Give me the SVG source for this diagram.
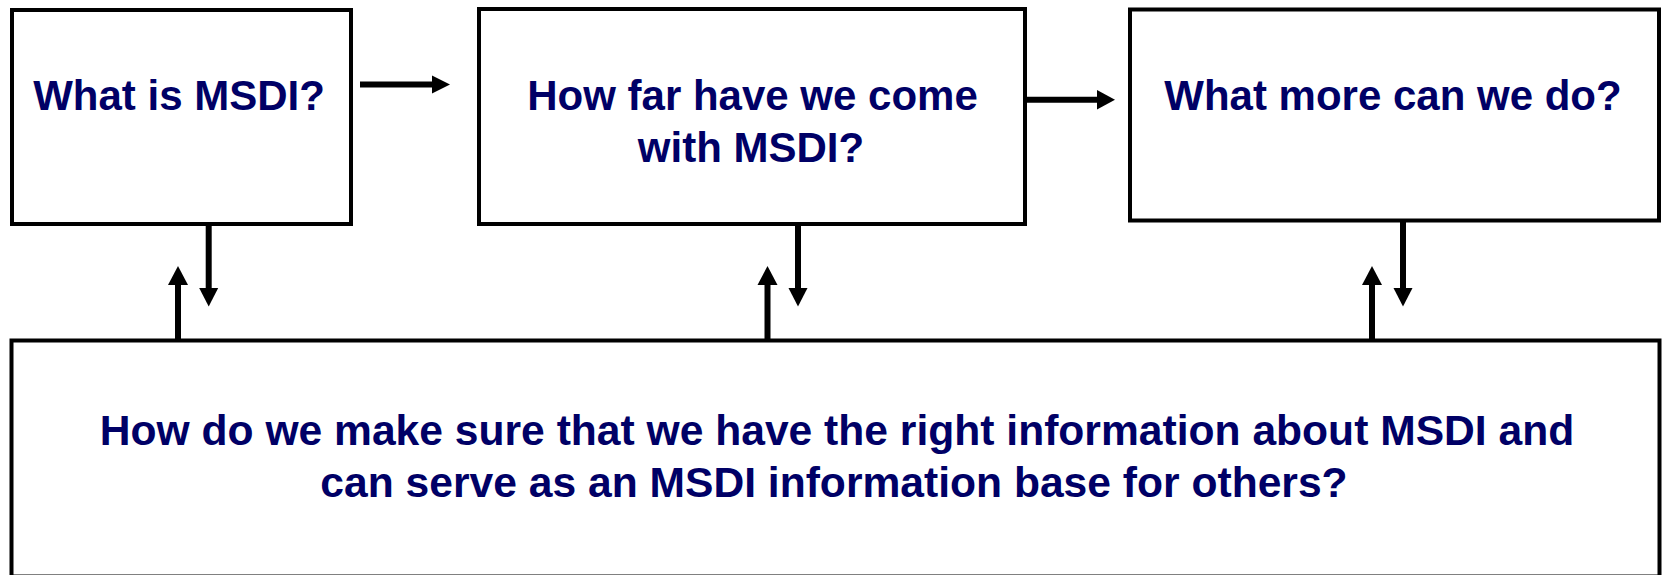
<svg xmlns="http://www.w3.org/2000/svg" width="1662" height="575" viewBox="0 0 1662 575">
<style>
.box{fill:#ffffff;stroke:#000000;stroke-width:4}
.lbl{font-family:"Liberation Sans",Arial,sans-serif;font-weight:bold;font-size:42px;fill:#000066;text-anchor:middle}
.big{font-size:42.6px}
.conn{stroke:#000000;stroke-width:6;fill:none}
.head{fill:#000000;stroke:none}
</style>
<rect width="1662" height="575" fill="#ffffff"/>
<g id="node-what-is">
<rect class="box" x="12" y="10" width="339" height="214"/>
<text class="lbl" x="179" y="110">What is MSDI?</text>
</g>
<g id="node-how-far">
<rect class="box" x="479" y="9" width="546" height="215"/>
<text class="lbl" x="752.5" y="110">How far have we come</text>
<text class="lbl" x="751" y="162">with MSDI?</text>
</g>
<g id="node-what-more">
<rect class="box" x="1130" y="9.5" width="529" height="211"/>
<text class="lbl" x="1393" y="110">What more can we do?</text>
</g>
<g id="node-info-base">
<rect class="box" x="11.5" y="340.5" width="1648" height="236"/>
<text class="lbl big" x="837" y="445">How do we make sure that we have the right information about MSDI and</text>
<text class="lbl big" x="834" y="497">can serve as an MSDI information base for others?</text>
</g>
<g id="connectors">
<line class="conn" x1="360" y1="84.5" x2="433" y2="84.5"/>
<polygon class="head" points="432,75.5 450,84.5 432,93.5"/>
<line class="conn" x1="1025" y1="99.7" x2="1099" y2="99.7"/>
<polygon class="head" points="1097,90 1115,99.7 1097,109.5"/>
<line class="conn" x1="208.7" y1="222" x2="208.7" y2="290"/>
<polygon class="head" points="199.2,288 218.2,288 208.7,306.5"/>
<line class="conn" x1="178" y1="340" x2="178" y2="283"/>
<polygon class="head" points="168,285 188,285 178,266"/>
<line class="conn" x1="798" y1="222" x2="798" y2="290"/>
<polygon class="head" points="788.5,288 807.5,288 798,306.5"/>
<line class="conn" x1="767.5" y1="340" x2="767.5" y2="283"/>
<polygon class="head" points="757.5,285 777.5,285 767.5,266"/>
<line class="conn" x1="1403" y1="219" x2="1403" y2="290"/>
<polygon class="head" points="1393.5,288 1412.5,288 1403,306.5"/>
<line class="conn" x1="1372" y1="340" x2="1372" y2="283"/>
<polygon class="head" points="1362,285 1382,285 1372,266"/>
</g>
</svg>
